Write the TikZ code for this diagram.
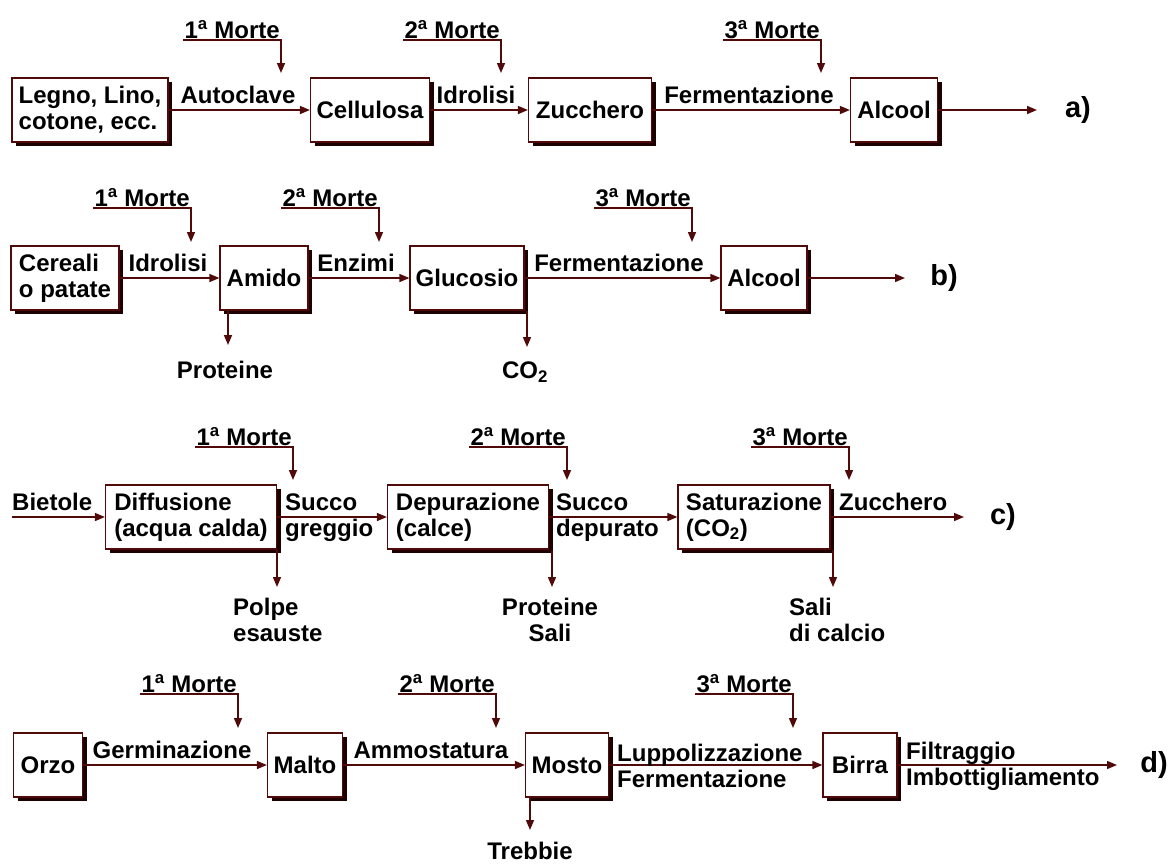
\documentclass[tikz,border=0pt]{standalone}
\usepackage{fontspec}
\setmainfont{Liberation Sans}
\usetikzlibrary{arrows.meta,shadows}

\definecolor{linea}{RGB}{80,10,10}
\definecolor{ombra}{RGB}{30,0,0}

\tikzset{
  stadio/.style={draw=linea, line width=1.2pt, fill=white, align=left,
    inner xsep=4pt, minimum height=64pt,
    drop shadow={shadow xshift=4pt, shadow yshift=-4pt, fill=ombra, opacity=1}},
  freccia/.style={draw=linea, line width=1.5pt, -{Triangle[length=10pt,width=8pt]}},
  etichetta/.style={inner sep=0pt},
  morte/.style={inner sep=1pt, anchor=south east},
  lettera/.style={font=\fontsize{29}{32}\selectfont\bfseries},
}

\begin{document}
\begin{tikzpicture}[x=1pt, y=-1pt, font=\fontsize{24}{26}\selectfont\bfseries]

\useasboundingbox (0,0) rectangle (1175,865);

% Riga a)
\node[stadio, minimum width=156pt] (legno) at (90,110) {Legno, Lino,\\cotone, ecc.};
\node[stadio, minimum width=119pt] (cellulosa) at (370,110) {Cellulosa};
\node[stadio, minimum width=123pt] (zuccheroa) at (590,110) {Zucchero};
\node[stadio, minimum width=87pt] (alcoola) at (894,110) {Alcool};
\coordinate (fine-a) at (1037,110);

\draw[freccia] (legno) -- (cellulosa);
\draw[freccia] (cellulosa) -- (zuccheroa);
\draw[freccia] (zuccheroa) -- (alcoola);
\draw[freccia] (alcoola) -- (fine-a);

\node[etichetta, anchor=base] (autoclave) at (238,103) {Autoclave};
\node[etichetta, anchor=base] (idrolisia) at (476,103) {Idrolisi};
\node[etichetta, anchor=base] (fermentazionea) at (749,103) {Fermentazione};
\node[lettera] (lettera-a) at (1078,110) {a)};

\coordinate (p1a) at (281,73);
\coordinate (p2a) at (501,73);
\coordinate (p3a) at (821,73);
\node[morte] (m1a) at (281,40) {1\textsuperscript{a} Morte};
\node[morte] (m2a) at (501,40) {2\textsuperscript{a} Morte};
\node[morte] (m3a) at (821,40) {3\textsuperscript{a} Morte};
\draw[freccia] (m1a.south west) -| (p1a);
\draw[freccia] (m2a.south west) -| (p2a);
\draw[freccia] (m3a.south west) -| (p3a);

% Riga b)
\node[stadio, minimum width=108pt] (cereali) at (65,278) {Cereali\\o patate};
\node[stadio, minimum width=88pt] (amido) at (264,278) {Amido};
\node[stadio, minimum width=114pt] (glucosio) at (467,278) {Glucosio};
\node[stadio, minimum width=86pt] (alcoolb) at (764,278) {Alcool};
\coordinate (fine-b) at (905,278);

\draw[freccia] (cereali) -- (amido);
\draw[freccia] (amido) -- (glucosio);
\draw[freccia] (glucosio) -- (alcoolb);
\draw[freccia] (alcoolb) -- (fine-b);

\node[etichetta, anchor=base] (idrolisib) at (168,271) {Idrolisi};
\node[etichetta, anchor=base] (enzimi) at (356,271) {Enzimi};
\node[etichetta, anchor=base] (fermentazioneb) at (619,271) {Fermentazione};
\node[lettera] (lettera-b) at (944,278) {b)};

\coordinate (p1b) at (191,242);
\coordinate (p2b) at (379,242);
\coordinate (p3b) at (692,242);
\node[morte] (m1b) at (191,208) {1\textsuperscript{a} Morte};
\node[morte] (m2b) at (379,208) {2\textsuperscript{a} Morte};
\node[morte] (m3b) at (692,208) {3\textsuperscript{a} Morte};
\draw[freccia] (m1b.south west) -| (p1b);
\draw[freccia] (m2b.south west) -| (p2b);
\draw[freccia] (m3b.south west) -| (p3b);

\coordinate (q-proteine) at (228,345);
\coordinate (q-co) at (527,347);
\draw[freccia] (amido.south -| q-proteine) -- (q-proteine);
\draw[freccia] (glucosio.south -| q-co) -- (q-co);
\node (proteineb) at (225,370) {Proteine};
\node (co) at (525,372) {CO\textsubscript{2}};

% Riga c)
\coordinate (inizio-c) at (12,517);
\node[stadio, minimum width=171pt] (diffusione) at (191,517) {Diffusione\\(acqua calda)};
\node[stadio, minimum width=161pt] (depurazione) at (468,517) {Depurazione\\(calce)};
\node[stadio, minimum width=152pt] (saturazione) at (754,517) {Saturazione\\(CO\textsubscript{2})};
\coordinate (fine-c) at (964,517);

\draw[freccia] (inizio-c) -- (diffusione);
\draw[freccia] (diffusione) -- (depurazione);
\draw[freccia] (depurazione) -- (saturazione);
\draw[freccia] (saturazione) -- (fine-c);

\node[etichetta, anchor=base west] (bietole) at (12,510) {Bietole};
\node[etichetta, anchor=west, align=left] (greggio) at (285,518) {Succo\\greggio};
\node[etichetta, anchor=west, align=left] (depurato) at (556,518) {Succo\\depurato};
\node[etichetta, anchor=base west] (zuccheroc) at (839,510) {Zucchero};
\node[lettera] (lettera-c) at (1003,517) {c)};

\coordinate (p1c) at (293,480);
\coordinate (p2c) at (567,480);
\coordinate (p3c) at (849,480);
\node[morte] (m1c) at (293,447) {1\textsuperscript{a} Morte};
\node[morte] (m2c) at (567,447) {2\textsuperscript{a} Morte};
\node[morte] (m3c) at (849,447) {3\textsuperscript{a} Morte};
\draw[freccia] (m1c.south west) -| (p1c);
\draw[freccia] (m2c.south west) -| (p2c);
\draw[freccia] (m3c.south west) -| (p3c);

\coordinate (q-polpe) at (277,587);
\coordinate (q-sali) at (552,587);
\coordinate (q-calcio) at (833,587);
\draw[freccia] (diffusione.south -| q-polpe) -- (q-polpe);
\draw[freccia] (depurazione.south -| q-sali) -- (q-sali);
\draw[freccia] (saturazione.south -| q-calcio) -- (q-calcio);
\node[etichetta, anchor=west, align=left] (polpe) at (233,620) {Polpe\\esauste};
\node[etichetta, align=center] (proteinec) at (550,620) {Proteine\\Sali};
\node[etichetta, anchor=west, align=left] (calcio) at (789,620) {Sali\\di calcio};

% Riga d)
\node[stadio, minimum width=69pt] (orzo) at (48,765) {Orzo};
\node[stadio, minimum width=75pt] (malto) at (305,765) {Malto};
\node[stadio, minimum width=83pt] (mosto) at (567,765) {Mosto};
\node[stadio, minimum width=74pt] (birra) at (860,765) {Birra};
\coordinate (fine-d) at (1117,765);

\draw[freccia] (orzo) -- (malto);
\draw[freccia] (malto) -- (mosto);
\draw[freccia] (mosto) -- (birra);
\draw[freccia] (birra) -- (fine-d);

\node[etichetta, anchor=base] (germinazione) at (172,758) {Germinazione};
\node[etichetta, anchor=base] (ammostatura) at (431,758) {Ammostatura};
\node[etichetta, anchor=west, align=left] (luppolo) at (617,766) {Luppolizzazione\\Fermentazione};
\node[etichetta, anchor=west, align=left] (filtraggio) at (906,766) {Filtraggio\\Imbottigliamento};
\node[lettera] (lettera-d) at (1154,765) {d)};

\coordinate (p1d) at (238,728);
\coordinate (p2d) at (496,728);
\coordinate (p3d) at (793,728);
\node[morte] (m1d) at (238,694) {1\textsuperscript{a} Morte};
\node[morte] (m2d) at (496,694) {2\textsuperscript{a} Morte};
\node[morte] (m3d) at (793,694) {3\textsuperscript{a} Morte};
\draw[freccia] (m1d.south west) -| (p1d);
\draw[freccia] (m2d.south west) -| (p2d);
\draw[freccia] (m3d.south west) -| (p3d);

\coordinate (q-trebbie) at (530,830);
\draw[freccia] (mosto.south -| q-trebbie) -- (q-trebbie);
\node[etichetta] (trebbie) at (530,851) {Trebbie};

\end{tikzpicture}
\end{document}
